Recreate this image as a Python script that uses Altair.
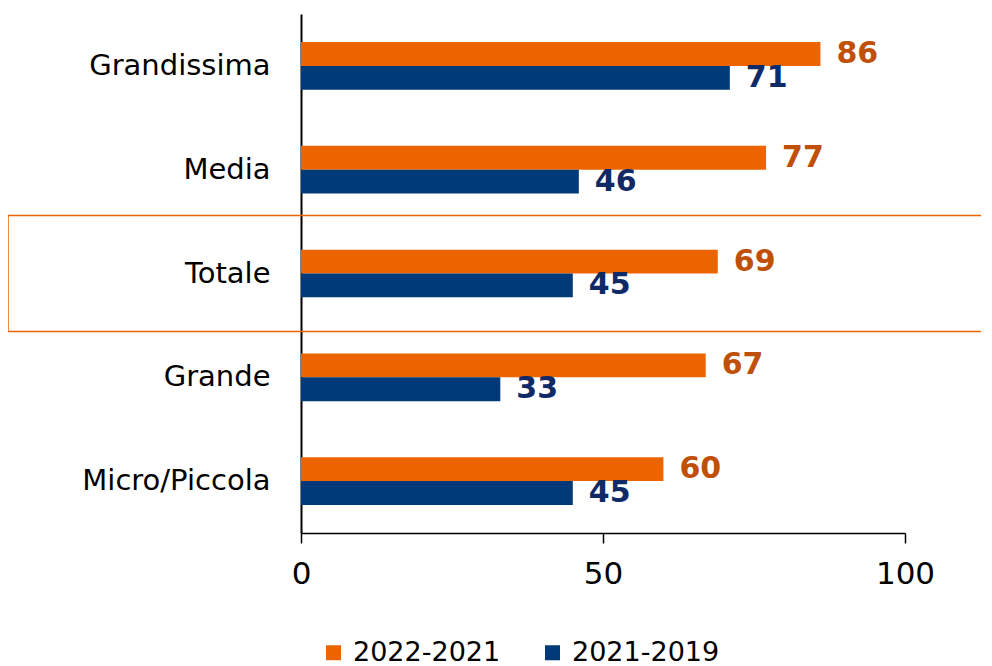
import altair as alt
import pandas as pd

categories = ["Grandissima", "Media", "Totale", "Grande", "Micro/Piccola"]
series = ["2022-2021", "2021-2019"]
values_2022_2021 = [86, 77, 69, 67, 60]
values_2021_2019 = [71, 46, 45, 33, 45]
bar_colors = ["#EB6400", "#003A78"]
label_colors = ["#C05008", "#0F2A66"]
x_ticks = [0, 50, 100]
highlight = ["Totale"]

rows = []
for i, c in enumerate(categories):
    rows.append({"cat": c, "series": series[0], "value": values_2022_2021[i], "tcolor": label_colors[0]})
    rows.append({"cat": c, "series": series[1], "value": values_2021_2019[i], "tcolor": label_colors[1]})
df = pd.DataFrame(rows)
hl = pd.DataFrame({"cat": highlight})

FONT = "DejaVu Sans"

y_enc = alt.Y("cat:N", sort=categories, title=None,
              scale=alt.Scale(paddingInner=0.54, paddingOuter=0.27),
              axis=alt.Axis(ticks=False, domainColor="black", domainWidth=2,
                            labelFont=FONT, labelFontSize=29, labelColor="black",
                            labelPadding=31, labelLimit=400))
x_enc = alt.X("value:Q", title=None,
              scale=alt.Scale(domain=[0, 100], nice=False),
              axis=alt.Axis(values=x_ticks, grid=False, domainColor="black", domainWidth=1.5,
                            tickColor="black", tickWidth=1.5, tickSize=10,
                            labelFont=FONT, labelFontSize=31, labelColor="black",
                            labelFlush=False, labelPadding=16))
yoff = alt.YOffset("series:N", sort=series, scale=alt.Scale(paddingInner=0, paddingOuter=0))

bars = alt.Chart(df).mark_bar().encode(
    y=y_enc,
    x=x_enc,
    yOffset=yoff,
    color=alt.Color("series:N", sort=series,
                    scale=alt.Scale(domain=series, range=bar_colors),
                    legend=alt.Legend(title=None, orient="none", direction="horizontal",
                                      legendX=19, legendY=625,
                                      symbolType="square", symbolSize=225,
                                      symbolStrokeWidth=0, symbolOpacity=1,
                                      labelFont=FONT, labelFontSize=27, labelColor="black",
                                      labelOffset=6, columnPadding=38)),
)

labels = alt.Chart(df).mark_text(align="left", baseline="middle", dx=16,
                                 font=FONT, fontSize=30, fontWeight="bold").encode(
    y=alt.Y("cat:N", sort=categories),
    x="value:Q",
    yOffset=yoff,
    text="value:Q",
    fill=alt.Fill("tcolor:N", scale=None),
)

box = alt.Chart(hl).mark_bar(filled=False, stroke="#EB6400", strokeWidth=1.5, size=116).encode(
    y=alt.Y("cat:N", sort=categories),
    x=alt.value(-293),
    x2=alt.value(701),
)

chart = alt.layer(box, bars, labels).properties(
    width=604, height=519,
    autosize=alt.AutoSizeParams(type="none"),
    padding={"left": 293, "top": 6, "right": 76, "bottom": 136},
).configure_view(stroke=None)

chart.save("out.html", embed_options={"renderer": "svg", "actions": False})
